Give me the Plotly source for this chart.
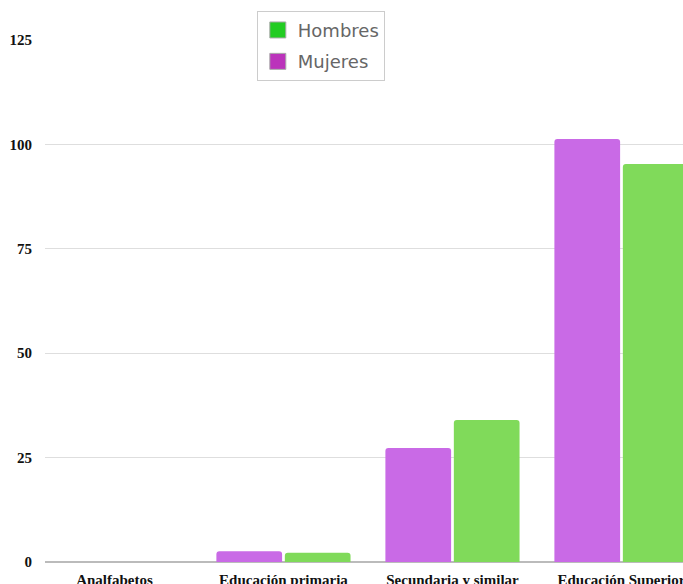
import plotly.graph_objects as go

categories = ["Analfabetos", "Educación primaria", "Secundaria y similar", "Educación Superior"]
mujeres = [0, 2.6, 27.3, 101.3]
hombres = [0, 2.2, 34.0, 95.3]
y_ticks = [0, 25, 50, 75, 100, 125]

bar_mujeres = "#c96ae6"
bar_hombres = "#80da5a"
leg_hombres = "#22cc22"
leg_mujeres = "#bb33bb"

fig = go.Figure()
fig.add_trace(go.Bar(x=categories, y=mujeres, name="Mujeres", showlegend=False,
                     marker=dict(color=bar_mujeres, cornerradius=3, line=dict(width=0))))
fig.add_trace(go.Bar(x=categories, y=hombres, name="Hombres", showlegend=False,
                     marker=dict(color=bar_hombres, cornerradius=3, line=dict(width=0))))
# legend entries
fig.add_trace(go.Scatter(x=[None], y=[None], mode="markers", name="Hombres",
                         legendgroup="h",
                         marker=dict(symbol="square", size=20, color=leg_hombres,
                                     line=dict(color="#aaaaaa", width=1))))
fig.add_trace(go.Scatter(x=[None], y=[None], mode="markers", name="Mujeres",
                         legendgroup="m",
                         marker=dict(symbol="square", size=20, color=leg_mujeres,
                                     line=dict(color="#aaaaaa", width=1))))

fig.update_layout(
    width=683, height=584,
    margin=dict(l=45, r=0, t=40, b=22),
    paper_bgcolor="white", plot_bgcolor="white",
    barmode="group", bargap=0.19, bargroupgap=0.04,
    showlegend=True,
    legend=dict(x=0.332, y=1.056, xanchor="left", yanchor="top",
                bgcolor="white", bordercolor="#cccccc", borderwidth=1,
                font=dict(family="DejaVu Sans", size=18, color="#666666"),
                tracegroupgap=5, itemsizing="trace"),
    xaxis=dict(range=[-0.411, 3.364], showgrid=False, showline=False, automargin=False,
               ticks="outside", ticklen=4, tickcolor="rgba(0,0,0,0)",
               tickfont=dict(family="Liberation Serif", size=15, color="#111111"),
               fixedrange=True),
    yaxis=dict(range=[0, 125], tickvals=y_ticks, showgrid=True, gridcolor="#dedede",
               gridwidth=1, zeroline=True, zerolinecolor="#bbbbbb", zerolinewidth=2,
               automargin=False,
               ticks="outside", ticklen=9, tickcolor="rgba(0,0,0,0)",
               tickfont=dict(family="Liberation Serif", size=15, color="#111111"),
               fixedrange=True),
)
fig.update_xaxes(tickfont_weight="bold")
fig.update_yaxes(tickfont_weight="bold")

fig.write_html("out.html")
